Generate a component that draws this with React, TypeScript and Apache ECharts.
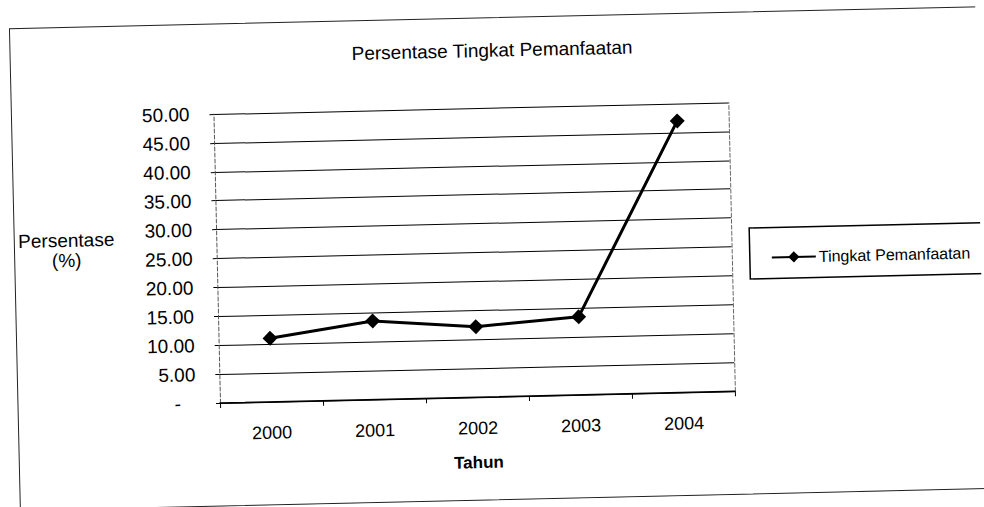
import React, { useEffect, useRef } from "react";
import * as echarts from "echarts";

const categories: string[] = ["2000", "2001", "2002", "2003", "2004"];
const tingkatPemanfaatan: number[] = [11.0, 13.6, 12.2, 13.5, 47.0];
const yMin = 0;
const yMax = 50;
const yStep = 5;
const yAxisTitle: string[] = ["Persentase", "(%)"];

const FONT = "'Liberation Sans', Arial, sans-serif";

export default function App() {
  const ref = useRef<HTMLDivElement>(null);
  useEffect(() => {
    if (!ref.current) return;
    const chart = echarts.init(ref.current, null, { renderer: "svg" });
    chart.setOption({
      animation: false,
      backgroundColor: "#ffffff",
      textStyle: { fontFamily: FONT, color: "#000" },
      title: {
        text: "Persentase Tingkat Pemanfaatan",
        left: 495,
        top: 42,
        textAlign: "center",
        textStyle: { fontFamily: FONT, fontSize: 19, fontWeight: "normal", color: "#000" },
      },
      legend: {
        left: 769,
        top: 257,
        itemWidth: 44,
        itemHeight: 14,
        itemGap: 4,
        textStyle: { fontFamily: FONT, fontSize: 16, color: "#000", padding: [0, 0, 0, -2] },
        data: ["Tingkat Pemanfaatan"],
      },
      graphic: [
        {
          type: "rect",
          shape: { x: 18, y: 24, width: 990, height: 482 },
          style: { fill: "none", stroke: "#222", lineWidth: 1 },
          silent: true,
        },
        {
          type: "rect",
          shape: { x: 753, y: 240, width: 245, height: 51 },
          style: { fill: "none", stroke: "#000", lineWidth: 1.5 },
          silent: true,
        },
        {
          type: "text",
          x: 70,
          y: 237,
          style: {
            text: yAxisTitle[0],
            fontFamily: FONT,
            fontSize: 19,
            fill: "#000",
            align: "center",
            verticalAlign: "middle",
          },
          silent: true,
        },
        {
          type: "text",
          x: 70,
          y: 257,
          style: {
            text: yAxisTitle[1],
            fontFamily: FONT,
            fontSize: 19,
            fill: "#000",
            align: "center",
            verticalAlign: "middle",
          },
          silent: true,
        },
      ],
      grid: { left: 220, top: 114, width: 515, height: 289, containLabel: false },
      xAxis: {
        type: "category",
        data: categories,
        boundaryGap: true,
        name: "Tahun",
        nameLocation: "middle",
        nameGap: 57,
        nameTextStyle: { fontFamily: FONT, fontSize: 17, fontWeight: "bold", color: "#000" },
        axisLine: { lineStyle: { color: "#000", width: 1.5 } },
        axisTick: { show: true, length: 5, lineStyle: { color: "#000" } },
        axisLabel: { fontFamily: FONT, fontSize: 18, color: "#000", margin: 22 },
        splitLine: { show: false },
      },
      yAxis: [
        {
          type: "value",
          min: yMin,
          max: yMax,
          interval: yStep,
          axisLine: { show: true, lineStyle: { color: "#555", width: 1, type: "dashed" } },
          axisTick: { show: true, length: 4, lineStyle: { color: "#000" } },
          axisLabel: {
            fontFamily: FONT,
            fontSize: 19,
            color: "#000",
            margin: 24,
            formatter: (v: number) => (v === 0 ? "{z|-}" : v.toFixed(2)),
            rich: { z: { fontFamily: FONT, fontSize: 19, color: "#000", padding: [0, 15, 0, 0] } },
          },
          splitLine: { show: true, lineStyle: { color: "#000", width: 1 } },
        },
        {
          type: "value",
          min: yMin,
          max: yMax,
          interval: yStep,
          position: "right",
          axisLine: { show: true, lineStyle: { color: "#666", width: 1, type: "dashed" } },
          axisTick: { show: false },
          axisLabel: { show: false },
          splitLine: { show: false },
        },
      ],
      series: [
        {
          name: "Tingkat Pemanfaatan",
          type: "line",
          yAxisIndex: 0,
          data: tingkatPemanfaatan,
          symbol: "diamond",
          symbolSize: 15,
          lineStyle: { color: "#000", width: 3 },
          itemStyle: { color: "#000" },
        },
      ],
    });
    return () => chart.dispose();
  }, []);

  return (
    <div
      style={{
        position: "fixed",
        left: 0,
        top: 0,
        width: 984,
        height: 507,
        background: "#fff",
      }}
    >
      <div
        ref={ref}
        style={{
          width: 984,
          height: 507,
          transform: "rotate(-1.3deg)",
          transformOrigin: "220px 403px",
        }}
      />
    </div>
  );
}
